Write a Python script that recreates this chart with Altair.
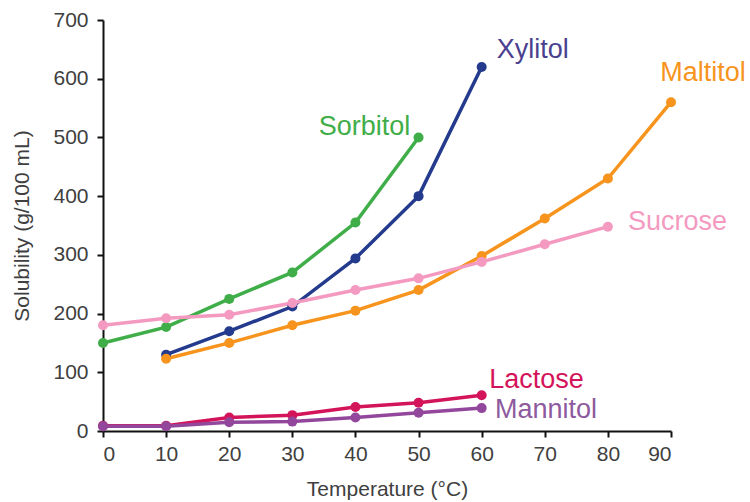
import altair as alt
import pandas as pd

# Solubility (g/100 mL) versus temperature (°C)
sorbitol_t = [0, 10, 20, 30, 40, 50]
sorbitol_v = [150, 177, 225, 270, 355, 500]

xylitol_t = [10, 20, 30, 40, 50, 60]
xylitol_v = [130, 170, 212, 294, 400, 620]

maltitol_t = [10, 20, 30, 40, 50, 60, 70, 80, 90]
maltitol_v = [123, 150, 180, 205, 240, 298, 362, 430, 560]

sucrose_t = [0, 10, 20, 30, 40, 50, 60, 70, 80]
sucrose_v = [180, 192, 198, 218, 240, 260, 288, 318, 348]

lactose_t = [0, 10, 20, 30, 40, 50, 60]
lactose_v = [9, 9, 23, 27, 41, 48, 61]

mannitol_t = [0, 10, 20, 30, 40, 50, 60]
mannitol_v = [8, 8, 15, 16, 23, 31, 39]

names = ["Sorbitol", "Xylitol", "Maltitol", "Sucrose", "Lactose", "Mannitol"]
line_colors = ["#3fae49", "#233a8d", "#f7941d", "#f49ac1", "#d4145a", "#92479c"]
text_colors = ["#3fae49", "#4b3f8f", "#f7941d", "#f49ac1", "#d4145a", "#8e5a9e"]

# label anchor positions in data units
label_x = [48.7, 62.4, 88.3, 83.2, 61.2, 62.1]
label_y = [518, 649, 610, 356, 87, 36]
label_align = ["right", "left", "left", "left", "left", "left"]

series = [
    ("Sorbitol", sorbitol_t, sorbitol_v),
    ("Xylitol", xylitol_t, xylitol_v),
    ("Maltitol", maltitol_t, maltitol_v),
    ("Sucrose", sucrose_t, sucrose_v),
    ("Lactose", lactose_t, lactose_v),
    ("Mannitol", mannitol_t, mannitol_v),
]
rows = []
for name, ts, vs in series:
    for t, v in zip(ts, vs):
        rows.append({"name": name, "temp": t, "sol": v})
df = pd.DataFrame(rows)

labels = pd.DataFrame({
    "name": names, "x": label_x, "y": label_y,
    "align": label_align, "tcolor": text_colors,
})

xs = alt.Scale(domain=[0, 90], nice=False, zero=False)
ys = alt.Scale(domain=[0, 700], nice=False)
cs = alt.Scale(domain=names, range=line_colors)

x_axis = alt.Axis(values=list(range(0, 100, 10)), title="Temperature (°C)",
                  grid=False, tickSize=6, labelPadding=6, titlePadding=14)
y_axis = alt.Axis(values=list(range(0, 800, 100)), title="Solubility (g/100 mL)",
                  grid=False, tickSize=6, labelPadding=9, titlePadding=20)

base = alt.Chart(df).encode(
    x=alt.X("temp:Q", scale=xs, axis=x_axis),
    y=alt.Y("sol:Q", scale=ys, axis=y_axis),
    color=alt.Color("name:N", scale=cs, legend=None),
    detail="name:N",
)

lines = base.mark_line(strokeWidth=3.5, clip=False)
points = base.mark_circle(size=100, opacity=1, clip=False)

text_left = alt.Chart(labels[labels["align"] == "left"]).mark_text(
    align="left", baseline="middle", fontSize=27, font="Liberation Sans"
).encode(
    x=alt.X("x:Q", scale=xs), y=alt.Y("y:Q", scale=ys),
    text="name:N", color=alt.Color("tcolor:N", scale=None),
)
text_right = alt.Chart(labels[labels["align"] == "right"]).mark_text(
    align="right", baseline="middle", fontSize=27, font="Liberation Sans"
).encode(
    x=alt.X("x:Q", scale=xs), y=alt.Y("y:Q", scale=ys),
    text="name:N", color=alt.Color("tcolor:N", scale=None),
)

chart = alt.layer(lines, points, text_left, text_right).properties(
    width=568, height=411,
    autosize=alt.AutoSizeParams(type="none"),
    padding={"left": 103, "top": 20, "right": 79, "bottom": 71},
).configure_view(stroke=None).configure_axis(
    domainColor="#111", tickColor="#111", domainWidth=2, tickWidth=2,
    labelFont="Liberation Sans", titleFont="Liberation Sans",
    labelFontSize=21, titleFontSize=21, labelColor="#404040", titleColor="#404040",
    titleFontWeight="normal",
)

chart.save("out.html", embed_options={"renderer": "svg", "actions": False})
